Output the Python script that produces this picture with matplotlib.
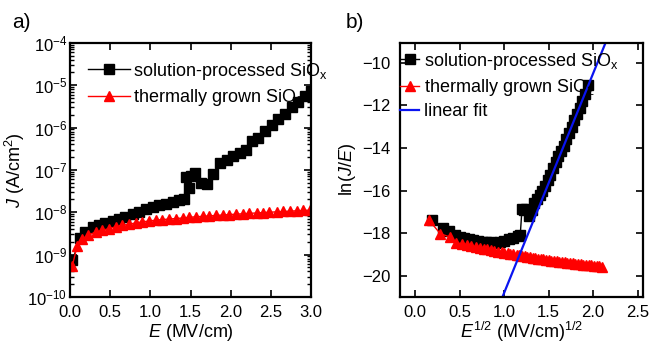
import numpy as np
import matplotlib
matplotlib.use("Agg")
import matplotlib.pyplot as plt
from matplotlib.ticker import LogLocator, MultipleLocator, NullLocator

plt.rcParams['font.family'] = ['Liberation Sans', 'DejaVu Sans']
plt.rcParams['mathtext.fontset'] = 'custom'
plt.rcParams['mathtext.rm'] = 'Liberation Sans'
plt.rcParams['mathtext.it'] = 'Liberation Sans:italic'
plt.rcParams['font.size'] = 13

# --- panel a: J-E ---
E_sol = [0.03, 0.13, 0.19, 0.28, 0.36, 0.44, 0.53, 0.61, 0.69, 0.78, 0.86, 0.94,
         1.03, 1.11, 1.19, 1.28, 1.36, 1.42, 1.44, 1.48, 1.51, 1.55, 1.63, 1.70,
         1.78, 1.86, 1.95, 2.03, 2.11, 2.19, 2.26, 2.34, 2.42, 2.51, 2.59, 2.67,
         2.76, 2.84, 2.92, 3.0]
J_sol = [7.5e-10, 2.4e-9, 3.4e-9, 4.4e-9, 4.9e-9, 5.6e-9, 6.2e-9, 6.8e-9, 7.7e-9,
         8.9e-9, 1.02e-8, 1.17e-8, 1.3e-8, 1.5e-8, 1.6e-8, 1.75e-8, 1.9e-8, 2.1e-8,
         6.8e-8, 3.8e-8, 7.0e-8, 8.3e-8, 5.0e-8, 4.7e-8, 8.0e-8, 1.45e-7, 1.7e-7,
         2.1e-7, 2.5e-7, 2.9e-7, 4.8e-7, 5.8e-7, 8.5e-7, 1.15e-6, 1.6e-6, 2.1e-6,
         3.0e-6, 4.0e-6, 5.6e-6, 7.5e-6]

E_th = [0.03, 0.09, 0.15, 0.23, 0.32, 0.40, 0.48, 0.57, 0.65, 0.73, 0.82, 0.90,
        0.98, 1.07, 1.15, 1.23, 1.32, 1.40, 1.48, 1.57, 1.65, 1.73, 1.82, 1.90,
        1.98, 2.07, 2.15, 2.23, 2.32, 2.40, 2.48, 2.57, 2.65, 2.73, 2.82, 2.90, 2.98]
J_th = [5.5e-10, 1.6e-9, 2.3e-9, 2.9e-9, 3.4e-9, 3.7e-9, 4.1e-9, 4.5e-9, 4.9e-9,
        5.2e-9, 5.6e-9, 5.9e-9, 6.2e-9, 6.5e-9, 6.7e-9, 6.9e-9, 7.1e-9, 7.3e-9,
        7.6e-9, 7.8e-9, 8.0e-9, 8.2e-9, 8.4e-9, 8.6e-9, 8.8e-9, 9.0e-9, 9.2e-9,
        9.4e-9, 9.6e-9, 9.8e-9, 1.0e-8, 1.02e-8, 1.04e-8, 1.06e-8, 1.08e-8,
        1.1e-8, 1.12e-8]

# --- panel b: ln(J/E) vs E^1/2 ---
x_sol = [0.19, 0.31, 0.38, 0.45, 0.50, 0.55, 0.60, 0.65, 0.70, 0.75, 0.80, 0.85,
         0.90, 0.95, 1.00, 1.05, 1.10, 1.15, 1.18, 1.20, 1.22, 1.25, 1.28, 1.31,
         1.34, 1.37, 1.40, 1.43, 1.46, 1.49, 1.52, 1.55, 1.58, 1.61, 1.64, 1.67,
         1.70, 1.73, 1.76, 1.79, 1.82, 1.85, 1.88, 1.91, 1.94]
y_sol = [-17.4, -17.75, -17.9, -18.1, -18.2, -18.25, -18.3, -18.33, -18.36, -18.4,
         -18.42, -18.44, -18.45, -18.43, -18.38, -18.3, -18.22, -18.12, -18.1,
         -16.85, -16.9, -16.85, -17.2, -16.9, -16.6, -16.4, -16.2, -16.0, -15.8,
         -15.5, -15.25, -14.95, -14.65, -14.4, -14.15, -13.9, -13.6, -13.3, -13.0,
         -12.7, -12.4, -12.1, -11.8, -11.45, -11.05]

x_th = [0.15, 0.28, 0.385, 0.46, 0.52, 0.58, 0.63, 0.68, 0.73, 0.77, 0.81, 0.85,
        0.89, 0.93, 0.97, 1.0, 1.04, 1.07, 1.1, 1.14, 1.17, 1.2, 1.23, 1.26, 1.29,
        1.32, 1.35, 1.38, 1.41, 1.44, 1.47, 1.5, 1.53, 1.56, 1.59, 1.62, 1.65,
        1.68, 1.71, 1.74, 1.77, 1.8, 1.83, 1.86, 1.89, 1.92, 1.95, 1.98, 2.01,
        2.04, 2.07, 2.1]
y_th = [-17.37, -18.03, -18.18, -18.46, -18.5, -18.55, -18.6, -18.65, -18.7,
        -18.73, -18.77, -18.8, -18.83, -18.87, -18.9, -18.93, -18.96, -18.98,
        -19.0, -19.03, -19.05, -19.08, -19.1, -19.12, -19.14, -19.16, -19.18,
        -19.2, -19.22, -19.24, -19.26, -19.28, -19.3, -19.31, -19.33, -19.35,
        -19.36, -19.38, -19.39, -19.41, -19.42, -19.44, -19.45, -19.47, -19.48,
        -19.49, -19.5, -19.52, -19.53, -19.54, -19.55, -19.6]

fit_x = [0.90, 2.25]
fit_y = [-21.83, -7.92]

lab_sol = 'solution-processed SiO$_\\mathrm{x}$'
lab_th = 'thermally grown SiO$_\\mathrm{2}$'

fig = plt.figure(figsize=(6.54, 3.46), dpi=100)
ax1 = fig.add_axes([0.107, 0.142, 0.369, 0.734])
ax2 = fig.add_axes([0.612, 0.142, 0.371, 0.734])

for ax in (ax1, ax2):
    ax.tick_params(which='both', direction='in', top=True, right=True, labelsize=12)
    ax.tick_params(which='major', length=5, width=1.2)
    ax.tick_params(which='minor', length=3, width=1)
    ax.tick_params(axis='x', pad=6)
    for s in ax.spines.values():
        s.set_linewidth(1.6)
ax1.tick_params(axis='y', pad=2)
ax2.tick_params(axis='y', pad=7)

# panel a
ax1.semilogy(E_sol, J_sol, '-s', color='black', lw=1, ms=6.5, label=lab_sol)
ax1.semilogy(E_th, J_th, '-^', color='red', lw=1, ms=7.5, label=lab_th)
ax1.set_xlim(0, 3.0)
ax1.set_ylim(1e-10, 1e-4)
ax1.xaxis.set_major_locator(MultipleLocator(0.5))
ax1.xaxis.set_minor_locator(NullLocator())
ax1.yaxis.set_major_locator(LogLocator(base=10, numticks=10))
ax1.yaxis.set_minor_locator(LogLocator(base=10, subs=np.arange(2, 10), numticks=20))
ax1.set_xlabel('$E$ (MV/cm)', labelpad=1)
ax1.set_ylabel('$J$ (A/cm$^2$)', labelpad=0)
ax1.legend(loc='upper left', bbox_to_anchor=(0.075, 0.93), frameon=False,
           fontsize=13, handlelength=2.3, handletextpad=0.2, labelspacing=0.3,
           borderaxespad=0, borderpad=0)

# panel b
ax2.plot(x_sol, y_sol, '-s', color='black', lw=1, ms=6.5, label=lab_sol)
ax2.plot(x_th, y_th, '-^', color='red', lw=1, ms=7.5, label=lab_th)
ax2.plot(fit_x, fit_y, '-', color='#0a14f0', lw=1.6, label='linear fit')
ax2.set_xlim(-0.17, 2.56)
ax2.set_ylim(-21, -9.06)
ax2.xaxis.set_major_locator(MultipleLocator(0.5))
ax2.yaxis.set_major_locator(MultipleLocator(2))
ax2.set_xlabel('$E^{1/2}$ (MV/cm)$^{1/2}$', labelpad=0)
ax2.set_ylabel('ln($J$/$E$)', labelpad=3)
ax2.legend(loc='upper left', bbox_to_anchor=(0.0, 0.97), frameon=False,
           fontsize=13, handlelength=1.05, handletextpad=0.28, labelspacing=0.3,
           borderaxespad=0, borderpad=0)

fig.text(0.018, 0.935, 'a)', fontsize=15, va='center')
fig.text(0.528, 0.935, 'b)', fontsize=15, va='center')

fig.savefig('out.png', dpi=100)
